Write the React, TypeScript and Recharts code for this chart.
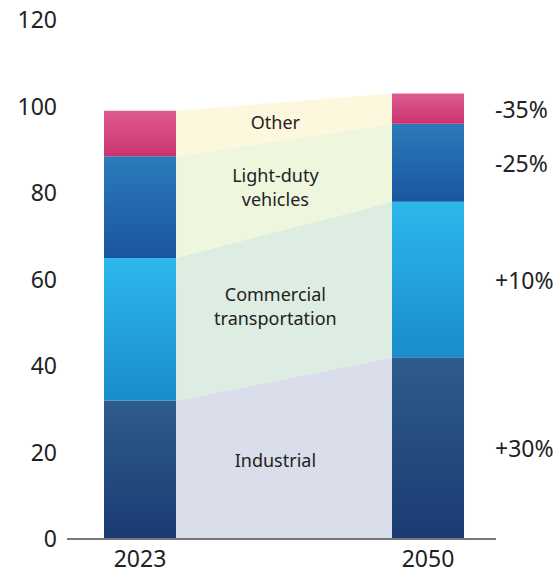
import { ComposedChart, Bar, Area, XAxis, YAxis, ReferenceDot, LabelList } from 'recharts';

document.body.style.margin = '0';

const years = ['2023', '2050'];
const sectorNames = ['Industrial', 'Commercial\ntransportation', 'Light-duty\nvehicles', 'Other'];
const industrial = [32, 42];
const commercial = [33, 36];
const lightDuty = [23.5, 18];
const other = [10.5, 7];
const changeLabels = ['+30%', '+10%', '-25%', '-35%'];
const yTicks = [0, 20, 40, 60, 80, 100, 120];

const series = [industrial, commercial, lightDuty, other];
const keys = ['ind', 'com', 'ldv', 'oth'];

// x positions in "year slot" units: bar centres at 0 and 1, bars 0.25 wide
const HALF = 0.125;
const LABEL_X = 0.47;
const X_DOMAIN = [-0.2535, 1.2361];

const barColors = [
    ['#2e5c8c', '#1a3b72'],
    ['#2cb8ec', '#1a8ccc'],
    ['#2b7bba', '#1a55a0'],
    ['#de5c8e', '#cb336f'],
];
const bandColors = ['#dadeea', '#deede1', '#eff6de', '#fdf8dd'];

// cumulative stack tops for each year
const cum = years.map((_, i) => {
    const out = [0];
    series.forEach((s) => out.push(out[out.length - 1] + s[i]));
    return out;
});

const barData = years.map((year, i) => {
    const row: any = { x: i, year };
    keys.forEach((k, s) => (row[k] = series[s][i]));
    return row;
});

// band polygons run from the right edge of the first bar to the left edge of the second
const bandData = years.map((_, i) => {
    const row: any = { x: i === 0 ? i + HALF : i - HALF };
    keys.forEach((k, s) => (row[k + 'Band'] = [cum[i][s], cum[i][s + 1]]));
    return row;
});

const t = (LABEL_X - HALF) / (1 - 2 * HALF);
const lerp = (a: number, b: number) => a + (b - a) * t;
const bandLabelY = keys.map((_, s) => (lerp(cum[0][s], cum[1][s]) + lerp(cum[0][s + 1], cum[1][s + 1])) / 2);

const FONT = '"Noto Sans", sans-serif';

const BandLabel = (text: string) => (props: any) => {
    const lines = text.split('\n');
    const lh = 24;
    const y0 = props.cy - ((lines.length - 1) * lh) / 2;
    return (
        <text x={props.cx} y={y0} textAnchor="middle" dominantBaseline="central" fontSize={18} fill="#222" fontFamily={FONT}>
            {lines.map((l, i) => (
                <tspan key={i} x={props.cx} y={y0 + i * lh}>{l}</tspan>
            ))}
        </text>
    );
};

function App() {
    return (
        <ComposedChart width={559} height={576} data={barData} margin={{ top: 20, right: 63, left: 0, bottom: 0 }}>
            <defs>
                {barColors.map((c, i) => (
                    <linearGradient key={i} id={'grad' + i} x1="0" y1="0" x2="0" y2="1">
                        <stop offset="0%" stopColor={c[0]} />
                        <stop offset="100%" stopColor={c[1]} />
                    </linearGradient>
                ))}
            </defs>
            <XAxis
                type="number"
                dataKey="x"
                domain={X_DOMAIN}
                ticks={[0, 1]}
                tickFormatter={(v) => years[v]}
                height={37}
                axisLine={{ stroke: '#777', strokeWidth: 2 }}
                tickLine={false}
                tickSize={0}
                tickMargin={12}
                tick={{ fontSize: 23, fill: '#222', fontFamily: FONT }}
            />
            <XAxis xAxisId="band" type="number" dataKey="x" domain={X_DOMAIN} hide />
            <YAxis
                domain={[0, 120]}
                ticks={yTicks}
                width={67}
                axisLine={false}
                tickLine={false}
                tickSize={0}
                tickMargin={10}
                tick={{ fontSize: 23, fill: '#222', fontFamily: FONT }}
            />
            {keys.map((k, s) => (
                <Area
                    key={k + 'Band'}
                    xAxisId="band"
                    data={bandData}
                    dataKey={k + 'Band'}
                    type="linear"
                    stroke="none"
                    fill={bandColors[s]}
                    fillOpacity={1}
                    dot={false}
                    activeDot={false}
                    isAnimationActive={false}
                />
            ))}
            {keys.map((k, s) => (
                <Bar key={k} dataKey={k} stackId="a" barSize={72} fill={'url(#grad' + s + ')'} isAnimationActive={false}>
                    <LabelList
                        dataKey={k}
                        content={(p: any) => {
                            const vb = p.viewBox || p;
                            if (p.index !== 1 || vb.x == null) return null;
                            return (
                                <text
                                    x={vb.x + vb.width + 31}
                                    y={vb.y + vb.height / 2}
                                    dominantBaseline="central"
                                    fontSize={23}
                                    fill="#222"
                                    fontFamily={FONT}
                                >
                                    {changeLabels[s]}
                                </text>
                            );
                        }}
                    />
                </Bar>
            ))}
            {sectorNames.map((name, s) => (
                <ReferenceDot key={name} x={LABEL_X} y={bandLabelY[s]} r={0} shape={BandLabel(name)} />
            ))}
        </ComposedChart>
    );
}

export default App;
